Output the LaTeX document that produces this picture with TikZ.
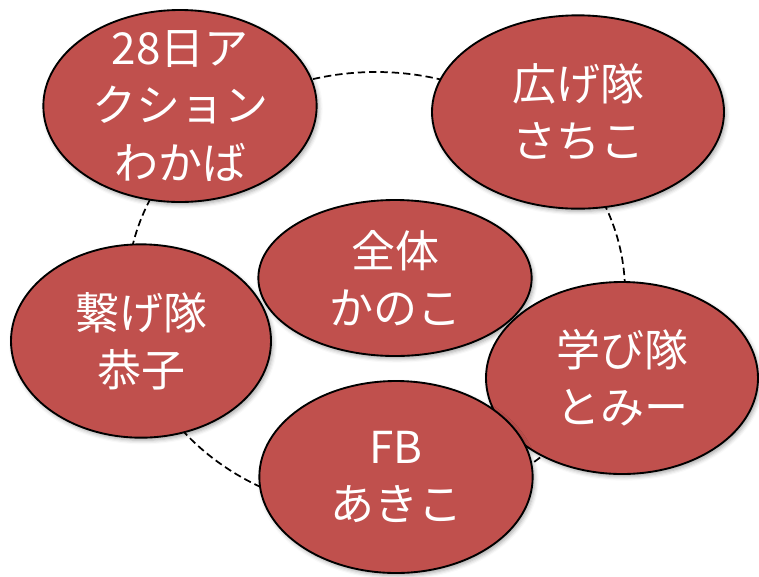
\documentclass[tikz,border=0pt]{standalone}
\usepackage{fontspec}
\newfontfamily\jpfont{Noto Sans CJK JP}
\usepackage{tikz}
\usetikzlibrary{shapes,shadows,shadows.blur}
\definecolor{teamred}{HTML}{C0504D}

\begin{document}
\begin{tikzpicture}[x=0.75pt,y=-0.75pt]
  \tikzstyle{team}=[ellipse,draw=black,line width=1.4pt,fill=teamred,
                    inner sep=0pt,
                    blur shadow={shadow xshift=1.5pt,shadow yshift=-2pt,
                                 shadow opacity=35,shadow blur radius=3pt}]
  \tikzstyle{teamtext}=[text=white,align=center,inner sep=0pt,
                        font=\jpfont\fontsize{33}{43}\selectfont]
  \tikzstyle{ring}=[line width=1.3pt,dash pattern=on 5.5pt off 3pt]
  \useasboundingbox (0,0) rectangle (759,576);
  % dashed ring behind the teams
  \draw [ring] (376,292) ellipse [x radius=249,y radius=220];
  \node [team,minimum width=205pt,minimum height=144pt] (action) at (180,106)
    [label={[teamtext]center:{28日ア\\クション\\わかば}}] {};
  \node [team,minimum width=219pt,minimum height=145pt] (hiroge) at (578,112)
    [label={[teamtext]center:{広げ隊\\さちこ}}] {};
  \node [team,minimum width=195pt,minimum height=145pt] (tsunage) at (141,341)
    [label={[teamtext]center:{繋げ隊\\恭子}}] {};
  \node [team,minimum width=205pt,minimum height=117pt] (zentai) at (395,278)
    [label={[teamtext]center:{全体\\かのこ}}] {};
  \node [team,minimum width=204pt,minimum height=144pt] (manabi) at (622,378)
    [label={[teamtext]center:{学び隊\\とみー}}] {};
  \node [team,minimum width=205pt,minimum height=144pt] (fb) at (396,477)
    [label={[teamtext]center:{FB\\あきこ}}] {};
\end{tikzpicture}
\end{document}
